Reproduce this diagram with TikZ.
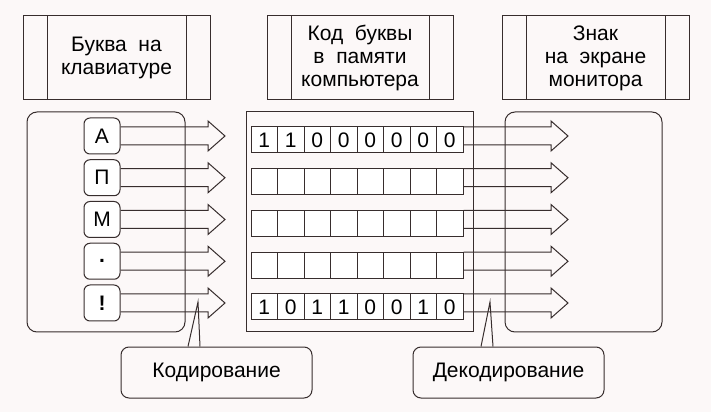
\documentclass[tikz,border=0pt]{standalone}
\usepackage{fontspec}
\setmainfont{Liberation Sans}
\usetikzlibrary{calc, positioning}
\definecolor{ink}{RGB}{55,45,45}
\definecolor{paper}{RGB}{252,248,248}
\tikzstyle{header} = [rectangle, draw=ink, line width=1pt, minimum width=187pt,
	minimum height=84pt, align=center, inner sep=0pt, font=\fontsize{21}{23}\selectfont]
\tikzstyle{panel} = [rectangle, draw=ink, line width=1pt, rounded corners=10pt,
	minimum width=158pt, minimum height=220pt]
\tikzstyle{key} = [rectangle, rounded corners=6pt, draw=ink, line width=1pt, fill=white,
	minimum size=36pt, inner sep=0pt, font=\fontsize{21}{23}\selectfont]
\tikzstyle{cell} = [rectangle, draw=ink, line width=1pt, fill=white, minimum width=26.5pt,
	minimum height=26pt, inner sep=0pt, font=\fontsize{21}{23}\selectfont]
\tikzstyle{callout} = [rectangle, rounded corners=8pt, draw=ink, line width=1pt,
	minimum width=191pt, minimum height=51pt, font=\fontsize{21}{23}\selectfont]
\tikzstyle{fat} = [draw=ink, line width=1pt, line join=miter]
\newcommand{\fatarrow}[2]{%
	\draw [fat] ($(#1)+(0,9)$) -- ($(#2)+(-17,9)$) -- ($(#2)+(-17,15)$) -- (#2)
	-- ($(#2)+(-17,-15)$) -- ($(#2)+(-17,-9)$) -- ($(#1)+(0,-9)$);}

\begin{document}
\begin{tikzpicture}[x=1pt, y=1pt]
	% paper
	\useasboundingbox (0,0) rectangle (711,412);
	\fill [paper] (0,0) rectangle (711,412);

	% set up headers
	\node (hkey) [header] at (116.5,354) {Буква\ \ на\\клавиатуре};
	\node (hcode) [header, minimum width=186pt] at (360,354) {Код\ \ буквы\\в\ \ памяти\\компьютера};
	\node (hsign) [header] at (595.5,354) {Знак\\на\ \ экране\\монитора};
	\foreach \n in {hkey, hcode, hsign} {
		\draw [ink, line width=1pt] ([xshift=24.5pt]\n.north west) -- ([xshift=24.5pt]\n.south west);
		\draw [ink, line width=1pt] ([xshift=-24.5pt]\n.north east) -- ([xshift=-24.5pt]\n.south east);
	}

	% set up panels
	\node (keyboard) [panel] at (106,190) {};
	\node (memory) [panel, rounded corners=0pt, minimum width=227pt] at (359.5,190) {};
	\node (screen) [panel, minimum width=157pt] at (583.5,190) {};

	% set up callouts
	\node (coding) [callout] at (216.5,39.5) {Кодирование};
	\node (decoding) [callout] at (508.5,39.5) {Декодирование};
	\coordinate (codetip) at (198,110);
	\coordinate (decodetip) at (490,110);
	\draw [ink, line width=1pt] ([xshift=-28.5pt]coding.north) -- (codetip) -- ([xshift=-16.5pt]coding.north);
	\draw [ink, line width=1pt] ([xshift=-27.5pt]decoding.north) -- (decodetip) -- ([xshift=-15.5pt]decoding.north);

	% set up keys, cells and arrows
	\foreach \i/\l in {1/А, 2/П, 3/М, 4/{\bfseries .}, 5/{\bfseries !}} {
		\pgfmathsetmacro\y{276-41.75*(\i-1)}
		\node (key\i) [key] at (102,\y) {\l};
		\foreach \j in {1,...,8}
			\node (cell-\i-\j) [cell] at ({264.25+26.5*(\j-1)},\y-4) {};
		\coordinate (in\i) at (225,\y);
		\coordinate (out\i) at (568,\y);
		\fatarrow{key\i.east}{in\i}
		\fatarrow{$(cell-\i-8.east)+(0,4)$}{out\i}
	}

	% set up codes
	\foreach \b [count=\j] in {1,1,0,0,0,0,0,0}
		\node at (cell-1-\j) {\fontsize{21}{23}\selectfont\b};
	\foreach \b [count=\j] in {1,0,1,1,0,0,1,0}
		\node at (cell-5-\j) {\fontsize{21}{23}\selectfont\b};

\end{tikzpicture}
\end{document}
